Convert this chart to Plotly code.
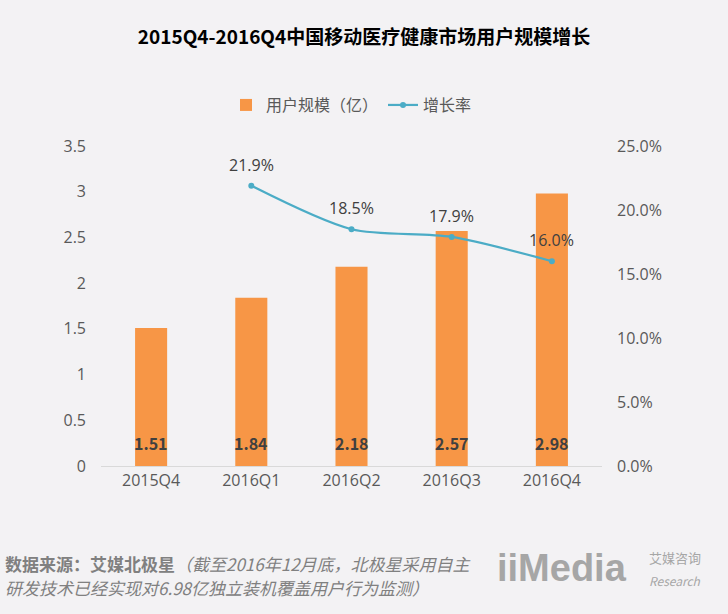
import plotly.graph_objects as go

categories = ["2015Q4", "2016Q1", "2016Q2", "2016Q3", "2016Q4"]
users = [1.51, 1.84, 2.18, 2.57, 2.98]
growth = [None, 0.219, 0.185, 0.179, 0.160]

bg = "#f3f2f4"
orange = "#f79646"
blue = "#4bacc6"
font_family = "Noto Sans CJK SC, Noto Sans, sans-serif"
tick_family = "Open Sans, Noto Sans, sans-serif"

fig = go.Figure()
fig.add_trace(go.Bar(
    x=categories, y=users, name="用户规模（亿）",
    marker=dict(color=orange, line=dict(width=0)), width=0.32,
))
fig.add_trace(go.Scatter(
    x=categories, y=growth, name="增长率", yaxis="y2",
    mode="lines+markers", line=dict(color=blue, width=2.2, shape="spline", smoothing=0.8),
    marker=dict(color=blue, size=6), connectgaps=False,
))

annotations = []
for c, v in zip(categories, users):
    annotations.append(dict(x=c, y=0, xref="x", yref="y", text=f"<b>{v:.2f}</b>",
                            showarrow=False, yanchor="bottom", yshift=9,
                            font=dict(size=16, color="#404040", family=font_family)))
for c, g in zip(categories, growth):
    if g is None:
        continue
    annotations.append(dict(x=c, y=g, xref="x", yref="y2", text=f"{g*100:.1f}%",
                            showarrow=False, yanchor="bottom", yshift=8,
                            font=dict(size=16, color="#404040", family=tick_family)))

annotations.append(dict(
    x=-0.196, y=-0.306, xref="paper", yref="paper", xanchor="left", yanchor="middle", align="left",
    text="<b>数据来源：艾媒北极星</b><i>（截至2016年12月底，北极星采用自主</i>",
    showarrow=False, font=dict(size=17, color="#808080", family=font_family)))
annotations.append(dict(
    x=-0.196, y=-0.38, xref="paper", yref="paper", xanchor="left", yanchor="middle", align="left",
    text="<i>研发技术已经实现对6.98亿独立装机覆盖用户行为监测）</i>",
    showarrow=False, font=dict(size=17, color="#808080", family=font_family)))
annotations.append(dict(
    x=0.787, y=-0.32, xref="paper", yref="paper", xanchor="left", yanchor="middle",
    text="<b>iiMedia</b>", showarrow=False,
    font=dict(size=38, color="#a6a6a6", family="Liberation Sans, sans-serif")))
annotations.append(dict(
    x=1.09, y=-0.287, xref="paper", yref="paper", xanchor="left", yanchor="middle",
    text="艾媒咨询", showarrow=False,
    font=dict(size=13, color="#a6a6a6", family=font_family)))
annotations.append(dict(
    x=1.09, y=-0.357, xref="paper", yref="paper", xanchor="left", yanchor="middle",
    text="<i>Research</i>", showarrow=False,
    font=dict(size=12, color="#a6a6a6", family=font_family)))

fig.update_layout(
    width=728, height=614,
    paper_bgcolor=bg, plot_bgcolor=bg,
    margin=dict(l=101, r=126, t=146, b=148),
    font=dict(family=font_family, color="#595959", size=14),
    title=dict(text="<b>2015Q4-2016Q4中国移动医疗健康市场用户规模增长</b>",
               x=0.5, xanchor="center", y=1 - 37 / 614, yanchor="middle",
               font=dict(size=19, color="#000000", family=font_family)),
    legend=dict(orientation="h", x=0.5, xanchor="center", y=1.128, yanchor="middle",
                font=dict(size=16, color="#595959"), bgcolor="rgba(0,0,0,0)",
                itemwidth=30, tracegroupgap=0),
    xaxis=dict(type="category", showgrid=False, showline=True, linecolor="#d9d9d9",
               linewidth=1, ticks="", tickfont=dict(size=16, color="#595959", family=tick_family)),
    yaxis=dict(range=[0, 3.5], dtick=0.5, showgrid=False, zeroline=False, showline=False,
               tickformat="", ticks="", ticklabelstandoff=14,
               tickfont=dict(size=16, color="#595959", family=tick_family)),
    yaxis2=dict(range=[0, 0.25], dtick=0.05, tickformat=".1%", overlaying="y", side="right",
                showgrid=False, zeroline=False, showline=False, ticks="", ticklabelstandoff=14,
                tickfont=dict(size=16, color="#595959", family=tick_family)),
    bargap=0.68,
    annotations=annotations,
    showlegend=True,
)

fig.write_html("out.html", config={"displayModeBar": False},
               post_script="document.body.style.margin='0';document.body.style.padding='0';")
